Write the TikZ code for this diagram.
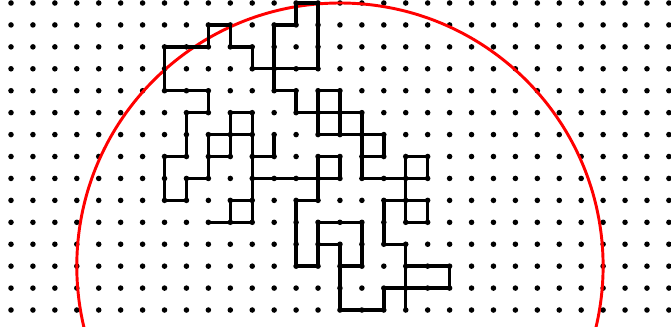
\documentclass[tikz,border=0pt]{standalone}
\usetikzlibrary{calc}

\begin{document}
\begin{tikzpicture}[
      x=0.5cm, y=-0.5cm,
      latticept/.style={fill=black},
      walk/.style={line width=2.2pt, line cap=round, line join=round},
      bound/.style={draw=red, line width=1.9pt}
    ]
    \useasboundingbox (-0.502,-0.137) rectangle (30.096,14.77);
    \clip (-0.502,-0.137) rectangle (30.096,14.77);

    \foreach \i in {0,...,30}
      \foreach \j in {0,...,14}
        \fill[latticept] (\i,\j) circle (1.8pt);

    \draw[bound] (15,12) circle (6cm);

    \foreach \j/\a/\b in {0/13/14, 1/9/10, 1/12/13, 2/7/9, 2/10/11, 3/11/14, 4/7/9, 4/12/13, 4/14/15,
        5/8/9, 5/10/11, 5/13/16, 6/9/11, 6/14/17, 7/7/8, 7/9/10, 7/11/12, 7/14/15, 7/16/17, 7/18/19,
        8/8/9, 8/11/15, 8/16/19, 9/7/8, 9/10/11, 9/13/14, 9/17/19, 10/9/11, 10/14/16, 10/18/19,
        11/14/15, 11/17/18, 12/13/14, 12/15/16, 12/18/20, 13/17/20, 14/15/17}
      \draw[walk] (\a,\j) -- (\b,\j);

    \foreach \i/\a/\b in {7/2/4, 7/7/9, 8/5/7, 8/8/9, 9/1/2, 9/4/5, 9/6/8, 10/1/2, 10/5/7, 10/9/10,
        11/2/3, 11/5/10, 12/1/4, 12/6/7, 13/0/1, 13/4/5, 13/9/12, 14/0/3, 14/4/6, 14/7/9, 14/10/12,
        15/4/6, 15/7/8, 15/11/14, 16/5/8, 16/10/12, 17/6/7, 17/9/11, 17/13/14, 18/7/10, 18/11/14,
        19/7/8, 19/9/10, 20/12/13}
      \draw[walk] (\i,\a) -- (\i,\b);
  \end{tikzpicture}
\end{document}
